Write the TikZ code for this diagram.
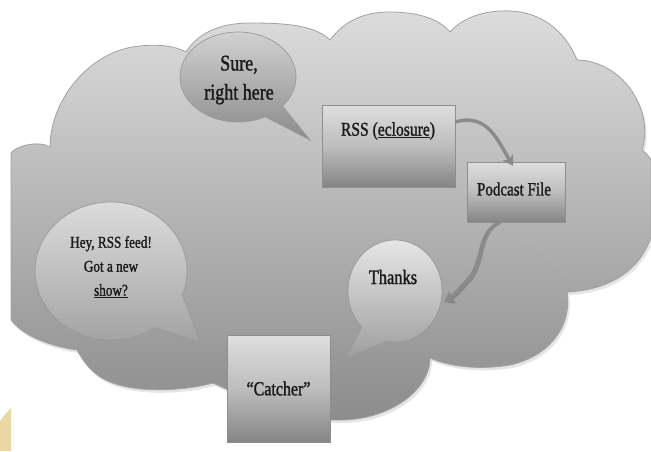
\documentclass[tikz,border=0pt]{standalone}
\usepackage{fontspec}
\setmainfont{Liberation Serif}[FakeStretch=0.8,FakeBold=1.3]
\usetikzlibrary{arrows.meta}
\definecolor{cloudedge}{HTML}{A2A2A2}
\definecolor{cloudtop}{HTML}{DCDCDC}
\definecolor{cloudmid}{HTML}{C0C0C0}
\definecolor{cloudbot}{HTML}{8C8C8C}
\definecolor{bubedge}{HTML}{999999}
\definecolor{boxedge}{HTML}{8E8E8E}
\definecolor{boxtop}{HTML}{DEDEDE}
\definecolor{boxmid}{HTML}{BDBDBD}
\definecolor{boxbot}{HTML}{858585}
\definecolor{arrowgray}{HTML}{8A8A8A}
\definecolor{txt}{HTML}{1A1A1A}
\definecolor{sand}{HTML}{EAD8A4}
\begin{document}
\begin{tikzpicture}[x=1pt,y=-1pt,
  cloudline/.style={draw=cloudedge,line width=0.8pt},
  bubble/.style={draw=bubedge,line width=0.7pt},
  boxnode/.style={draw=boxedge,line width=0.6pt,inner sep=0pt,top color=boxtop,bottom color=boxbot,middle color=boxmid},
  lbl/.style={text=txt,inner sep=0pt,align=center},
  conn/.style={draw=arrowgray,line width=3pt,-{Stealth[length=10pt,width=12pt]}},
  connshadow/.style={draw=black,opacity=0.18,line width=3.5pt,-{Stealth[length=10pt,width=12pt]}},
]
\fill[white] (0,0) rectangle (651,451);
\useasboundingbox (0,0) rectangle (651,451);
% sand corner
\fill[sand] (0,451) -- (0,421) .. controls (4,415) and (8,411) .. (11,408) -- (11,451) -- cycle;
% cloud shadow
\fill[black,opacity=0.10] (13,156)
 .. controls (18,149) and (40,143) .. (52,150)
 .. controls (52,103) and (92,53) .. (142,49) .. controls (162,47) and (177,49) .. (188,55)
 .. controls (202,33) and (227,26) .. (252,26) .. controls (287,26) and (317,28) .. (332,43)
 .. controls (347,23) and (367,15) .. (392,15) .. controls (422,15) and (442,23) .. (452,35)
 .. controls (467,18) and (492,13) .. (512,14) .. controls (542,15) and (567,33) .. (579,63)
 .. controls (602,63) and (627,78) .. (639,103) .. controls (647,118) and (649,138) .. (644,153)
 -- (653,165) -- (653,240)
 .. controls (642,273) and (612,293) .. (569,295)
 .. controls (574,323) and (557,358) .. (512,368) .. controls (482,373) and (452,370) .. (432,361)
 .. controls (432,393) and (392,423) .. (342,423)
 .. controls (302,424) and (252,403) .. (215,386)
 .. controls (182,395) and (122,398) .. (97,376) .. controls (87,368) and (82,358) .. (79,353)
 .. controls (57,350) and (27,341) .. (13,323) -- cycle;
% cloud
\shade[cloudline,top color=cloudtop,middle color=cloudmid,bottom color=cloudbot] (11,153)
 .. controls (16,146) and (38,140) .. (50,147)
 .. controls (50,100) and (90,50) .. (140,46) .. controls (160,44) and (175,46) .. (186,52)
 .. controls (200,30) and (225,23) .. (250,23) .. controls (285,23) and (315,25) .. (330,40)
 .. controls (345,20) and (365,12) .. (390,12) .. controls (420,12) and (440,20) .. (450,32)
 .. controls (465,15) and (490,10) .. (510,11) .. controls (540,12) and (565,30) .. (577,60)
 .. controls (600,60) and (625,75) .. (637,100) .. controls (645,115) and (647,135) .. (642,150)
 .. controls (648,155) and (651,158) .. (651,162) -- (651,237)
 .. controls (640,270) and (610,290) .. (567,292)
 .. controls (572,320) and (555,355) .. (510,365) .. controls (480,370) and (450,367) .. (430,358)
 .. controls (430,390) and (390,420) .. (340,420)
 .. controls (300,421) and (250,400) .. (213,383)
 .. controls (180,392) and (120,395) .. (95,373) .. controls (85,365) and (80,355) .. (77,350)
 .. controls (55,347) and (25,338) .. (11,320) -- cycle;
% faint inner arcs of the cloud
\draw[cloudedge,opacity=0.5,line width=0.5pt] (430,358) .. controls (428,330) and (440,305) .. (462,292);
\draw[cloudedge,opacity=0.5,line width=0.5pt] (567,292) .. controls (560,270) and (540,250) .. (515,242);
% speech bubbles
\shade[bubble,top color=white!82!black,bottom color=black!46]
  plot[domain=62:400,samples=90,variable=\t] ({238+58*cos(\t)},{77+45*sin(\t)}) -- (310,140) -- cycle;
\shade[bubble,top color=white!86!black,middle color=white!80!black,bottom color=black!36]
  plot[domain=55:380,samples=90,variable=\t] ({111+76*cos(\t)},{271+69*sin(\t)}) -- (200,342) -- cycle;
\shade[bubble,top color=white!90!black,middle color=white!82!black,bottom color=black!38]
  plot[domain=135:460,samples=90,variable=\t] ({395+47*cos(\t)},{291+51*sin(\t)}) -- (346,358) -- cycle;
\node[lbl,font=\fontsize{22.5}{29}\selectfont] (sure) at (239,80) {Sure,\\right here};
\node[lbl,font=\fontsize{16.5}{24}\selectfont] (hey) at (111,267) {Hey, RSS feed!\\Got a new\\\underline{show?}};
\node[lbl,font=\fontsize{20.5}{22}\selectfont] (thanks) at (393,277) {Thanks};
\coordinate (thanksin) at (444,302);
% boxes
\node[boxnode,minimum width=133pt,minimum height=82pt] (rss) at (388.5,146) {};
\node[lbl,font=\fontsize{19.5}{20}\selectfont] (rsstext) at (388,131) {RSS (\underline{eclosure})};
\node[boxnode,minimum width=98pt,minimum height=60pt] (pod) at (516,192) {};
\node[lbl,font=\fontsize{18.8}{20}\selectfont] (podtext) at (514,189) {Podcast File};
\node[boxnode,minimum width=103pt,minimum height=107pt,font=\fontsize{20}{20}\selectfont,text=txt] (catcher) at (278.5,388.5) {``Catcher''};
% connectors
\draw[connshadow,shift={(1.5,1.5)}] ([yshift=24pt]rss.east) .. controls (487,112) and (497,140) .. ([xshift=-3pt,yshift=-4pt]pod.north);
\draw[conn] ([yshift=24pt]rss.east) .. controls (487,112) and (497,140) .. ([xshift=-3pt,yshift=-4pt]pod.north);
\draw[connshadow,shift={(1.5,1.5)}] ([xshift=-16pt]pod.south) .. controls (476,232) and (484,262) .. (468,279) .. controls (460,288) and (453,296) .. (thanksin);
\draw[conn] ([xshift=-16pt]pod.south) .. controls (476,232) and (484,262) .. (468,279) .. controls (460,288) and (453,296) .. (thanksin);
\end{tikzpicture}
\end{document}
